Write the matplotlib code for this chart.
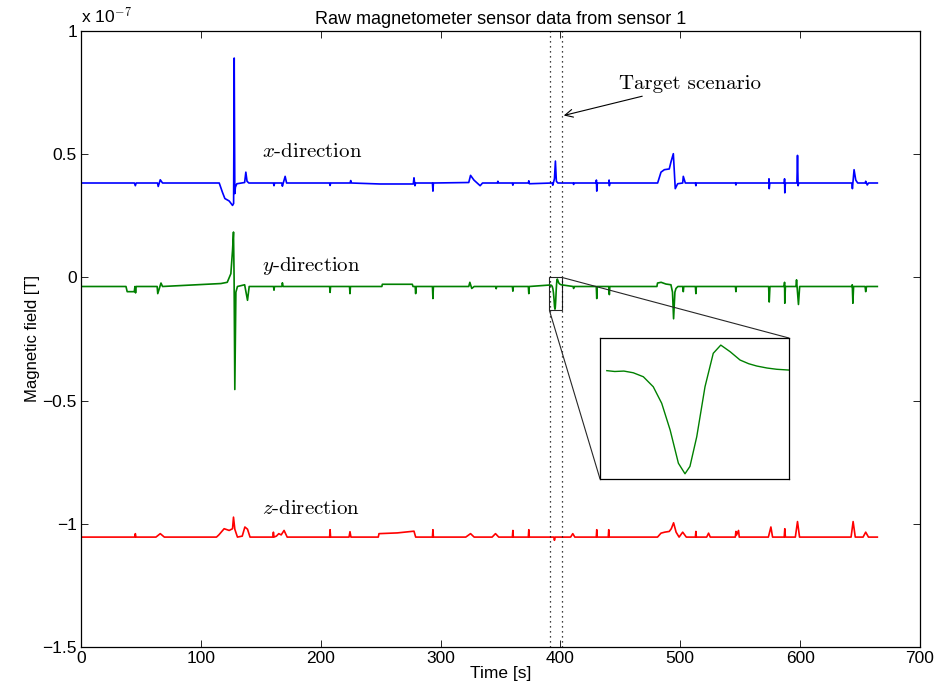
import numpy as np
import matplotlib
matplotlib.use("Agg")
import matplotlib.pyplot as plt
from mpl_toolkits.axes_grid1.inset_locator import mark_inset

plt.rcParams['font.family'] = ['Liberation Sans', 'DejaVu Sans']
plt.rcParams['mathtext.fontset'] = 'cm'
plt.rcParams['axes.unicode_minus'] = True

# field values are in units of 1e-7 T
# x-direction
tx = [0, 44.5, 45.3, 46, 63.8, 64.4, 66.1, 68, 115.3, 118, 120, 123.6, 126.4, 127.3,
      127.8, 128.3, 128.8, 130, 136.5, 137.5, 138.5, 140, 160.5, 161, 161.5, 167.5,
      168, 170.3, 171.5, 207.3, 207.8, 208.3, 224.5, 225, 225.6, 249.4, 277.2, 277.8,
      278.6, 279.2, 293.2, 293.6, 294, 323.5, 325, 327.8, 330.5, 333, 335, 347.3,
      347.8, 348.3, 359.8, 360.3, 360.8, 373.2, 373.6, 374.1, 393.2, 393.6, 395,
      395.8, 396.6, 397.8, 410.6, 411, 411.4, 429.8, 430, 430.3, 430.8, 440.3, 440.6,
      440.8, 441.3, 481.1, 483.9, 486.7, 490.8, 492.2, 494.2, 495.8, 497.8, 502,
      502.5, 504.2, 512.6, 513, 513.4, 546, 546.4, 546.8, 573.8, 574.0, 574.2, 574.7,
      586.8, 587.0, 587.2, 587.7, 597.3, 597.8, 598.3, 598.8, 643.2, 643.6, 645,
      646.4, 648, 654.3, 654.7, 656, 657, 664.4]
bx = [0.383, 0.383, 0.372, 0.383, 0.383, 0.369, 0.396, 0.383, 0.383, 0.345, 0.32,
      0.31, 0.292, 0.30, 0.89, 0.34, 0.366, 0.38, 0.385, 0.427, 0.39, 0.383, 0.383,
      0.372, 0.383, 0.383, 0.37, 0.41, 0.383, 0.383, 0.373, 0.383, 0.383, 0.393,
      0.383, 0.379, 0.379, 0.404, 0.372, 0.383, 0.383, 0.350, 0.383, 0.385, 0.414,
      0.395, 0.383, 0.372, 0.383, 0.383, 0.39, 0.383, 0.383, 0.374, 0.383, 0.383,
      0.392, 0.38, 0.383, 0.374, 0.40, 0.472, 0.39, 0.383, 0.383, 0.377, 0.383,
      0.383, 0.395, 0.350, 0.383, 0.383, 0.395, 0.372, 0.383, 0.383, 0.427, 0.437,
      0.44, 0.468, 0.502, 0.36, 0.38, 0.383, 0.41, 0.383, 0.383, 0.372, 0.383,
      0.383, 0.375, 0.383, 0.383, 0.40, 0.36, 0.383, 0.383, 0.40, 0.343, 0.383,
      0.383, 0.495, 0.372, 0.383, 0.383, 0.36, 0.437, 0.395, 0.383, 0.383, 0.39,
      0.375, 0.383, 0.383]

# y-direction (the 391-401 s stretch is the part shown in the zoom box)
ty = [0, 37.5, 38.5, 44.4, 45, 45.5, 46, 63.5, 64, 66.7, 68, 116.7, 122, 125, 126.4,
      127.2, 127.7, 128.3, 129.2, 130.5, 136.5, 138.9, 140.3, 160.6, 161, 161.4,
      167.6, 168, 168.6, 207.4, 207.8, 208.2, 224, 224.4, 224.8, 251, 251.4, 276.4,
      277, 278.8, 279.2, 279.6, 293.2, 293.6, 294, 323.5, 324.4, 326, 328, 346,
      346.4, 346.8, 359.9, 360.3, 360.7, 373.2, 373.6, 374,
      391.17, 391.6, 392.1, 392.61, 393.16, 393.7, 394.16, 394.62, 395.07, 395.43,
      395.7, 396.07, 396.52, 396.97, 397.38, 397.89, 398.43, 398.9, 399.34, 399.9,
      400.43, 401.06,
      410.6, 411, 411.4, 429.9, 430.3, 430.7, 440.4, 440.8, 441.2, 480.5, 481, 484,
      488, 492.2, 493.5, 494.4, 495.5, 496.4, 498, 502.1, 502.5, 502.9, 512.6, 513,
      513.4, 546, 546.4, 546.8, 573.7, 574.2, 574.8, 586.7, 587.0, 587.2, 587.7,
      596.5, 597, 598.6, 599.6, 643, 643.5, 644, 644.6, 654.2, 654.7, 655.4, 664.4]
by = [-0.037, -0.037, -0.058, -0.058, -0.037, -0.063, -0.037, -0.037, -0.066,
      -0.023, -0.037, -0.025, -0.020, 0.015, 0.11, 0.184, 0.0, -0.455, -0.06,
      -0.037, -0.03, -0.093, -0.037, -0.037, -0.052, -0.037, -0.037, -0.022, -0.037,
      -0.037, -0.061, -0.037, -0.037, -0.066, -0.037, -0.037, -0.028, -0.028,
      -0.037, -0.037, -0.066, -0.037, -0.037, -0.086, -0.037, -0.037, -0.02,
      -0.045, -0.037, -0.037, -0.046, -0.037, -0.037, -0.056, -0.037, -0.037,
      -0.066, -0.037,
      -0.031, -0.0318, -0.0314, -0.0330, -0.0368, -0.0463, -0.062, -0.0874, -0.119,
      -0.129, -0.122, -0.0938, -0.0463, -0.0145, -0.0067, -0.013, -0.0209, -0.0244,
      -0.0266, -0.0285, -0.0297, -0.0304,
      -0.037, -0.045, -0.037, -0.037, -0.086, -0.037, -0.037, -0.07, -0.037, -0.037,
      -0.023, -0.02, -0.027, -0.03, -0.06, -0.168, -0.06, -0.045, -0.037, -0.037,
      -0.058, -0.037, -0.037, -0.066, -0.037, -0.037, -0.058, -0.037, -0.037, -0.10,
      -0.037, -0.037, -0.02, -0.105, -0.037, -0.037, -0.010, -0.11, -0.037, -0.037,
      -0.03, -0.105, -0.037, -0.037, -0.058, -0.037, -0.037]

# z-direction
tz = [0, 44.8, 45.3, 45.8, 62.5, 66.1, 69.5, 113, 115, 119.4, 123.6, 126.4, 127.2,
      128.3, 130.5, 134.5, 136.7, 138.9, 141, 160, 160.5, 161, 163, 165, 167, 169.4,
      172, 207.4, 207.8, 208.2, 223.6, 224.4, 225.2, 248, 248.6, 263.9, 277.8, 279.2,
      293.2, 293.6, 294, 321, 325, 328, 343, 345.8, 348.5, 359.9, 360.3, 360.7,
      373.2, 373.6, 374, 394.5, 395, 395.6, 408.5, 410.3, 412, 429.9, 430.3, 430.7,
      439.9, 440.3, 440.7, 481, 483.9, 487, 490.8, 492.5, 494.4, 496.5, 499, 502,
      505, 512.6, 513, 513.4, 522, 523.6, 525, 545.9, 546.4, 547, 548.6, 549.2,
      573.5, 575.6, 577, 586.7, 587.2, 587.7, 596, 597.8, 599.5, 642.5, 644.2, 646,
      652.5, 654.7, 657, 664.4]
bz = [-1.054, -1.054, -1.040, -1.054, -1.054, -1.040, -1.054, -1.054, -1.045,
      -1.020, -1.027, -1.02, -0.973, -1.022, -1.054, -1.05, -1.013, -1.022, -1.054,
      -1.054, -1.034, -1.054, -1.05, -1.04, -1.045, -1.027, -1.054, -1.054, -1.024,
      -1.054, -1.054, -1.032, -1.054, -1.054, -1.040, -1.037, -1.030, -1.054,
      -1.054, -1.024, -1.054, -1.054, -1.040, -1.054, -1.054, -1.040, -1.054,
      -1.054, -1.027, -1.054, -1.054, -1.024, -1.054, -1.054, -1.067, -1.054,
      -1.054, -1.040, -1.054, -1.054, -1.024, -1.054, -1.054, -1.024, -1.054,
      -1.054, -1.038, -1.034, -1.031, -1.020, -0.996, -1.034, -1.054, -1.034,
      -1.054, -1.054, -1.031, -1.054, -1.054, -1.038, -1.054, -1.054, -1.031,
      -1.045, -1.027, -1.054, -1.054, -1.013, -1.054, -1.054, -1.020, -1.054,
      -1.054, -0.991, -1.054, -1.054, -0.991, -1.054, -1.054, -1.034, -1.054, -1.054]

target_t = [391, 401]
zoom_t = (390.8, 401.1)
zoom_b = (-0.134, 0.0)

fig = plt.figure(figsize=(9.38, 6.99), dpi=100)
ax = fig.add_axes([0.0864, 0.0744, 0.8944, 0.8813])

ax.plot(tx, bx, color='#0000ff', lw=1.2)
ax.plot(ty, by, color='#008000', lw=1.2)
ax.plot(tz, bz, color='#ff0000', lw=1.2)

for t in target_t:
    ax.axvline(t, color='k', ls=(0, (1, 3)), lw=0.9)

ax.set_xlim(0, 700)
ax.set_ylim(-1.5, 1)
ax.set_xticks(np.arange(0, 701, 100))
ax.set_yticks([-1.5, -1, -0.5, 0, 0.5, 1])
ax.set_yticklabels(['\u22121.5', '\u22121', '\u22120.5', '0', '0.5', '1'])
ax.tick_params(direction='in', top=True, right=True, length=5, width=0.6,
               labelsize=12.5, pad=3)
for s in ax.spines.values():
    s.set_linewidth(0.9)

ax.set_title('Raw magnetometer sensor data from sensor 1', fontsize=13, pad=5)
ax.set_xlabel('Time [s]', fontsize=12.5, labelpad=0)
ax.set_ylabel('Magnetic field [T]', fontsize=12, labelpad=2)
ax.text(0, 1.008, 'x 10$^{\\mathsf{\u22127}}$', transform=ax.transAxes, fontsize=12.5,
        ha='left', va='bottom')

lab = dict(fontsize=15, family='cmr10', va='center')
ax.text(150.8, 0.507, '$x$-direction', **lab)
ax.text(150.8, 0.045, '$y$-direction', **lab)
ax.text(150.8, -0.94, '$z$-direction', **lab)
ax.annotate('Target scenario', xy=(402.8, 0.657), xytext=(449, 0.783),
            fontsize=15, family='cmr10', va='center',
            arrowprops=dict(arrowstyle='->', color='k', lw=0.8,
                            shrinkA=0, shrinkB=0, mutation_scale=14))

# zoomed view of the y-direction signal around the target
sel = [i for i, t in enumerate(ty) if zoom_t[0] <= t <= zoom_t[1]]
axins = fig.add_axes([0.6397, 0.3147, 0.2015, 0.2017])
axins.plot([ty[i] for i in sel], [by[i] for i in sel], color='#008000', lw=1.0)
axins.set_xlim(*zoom_t)
axins.set_ylim(*zoom_b)
axins.set_xticks([])
axins.set_yticks([])
for s in axins.spines.values():
    s.set_linewidth(0.9)
mark_inset(ax, axins, loc1=1, loc2=3, fc='none', ec='0.15', lw=0.8)

fig.savefig('out.png', dpi=100)
